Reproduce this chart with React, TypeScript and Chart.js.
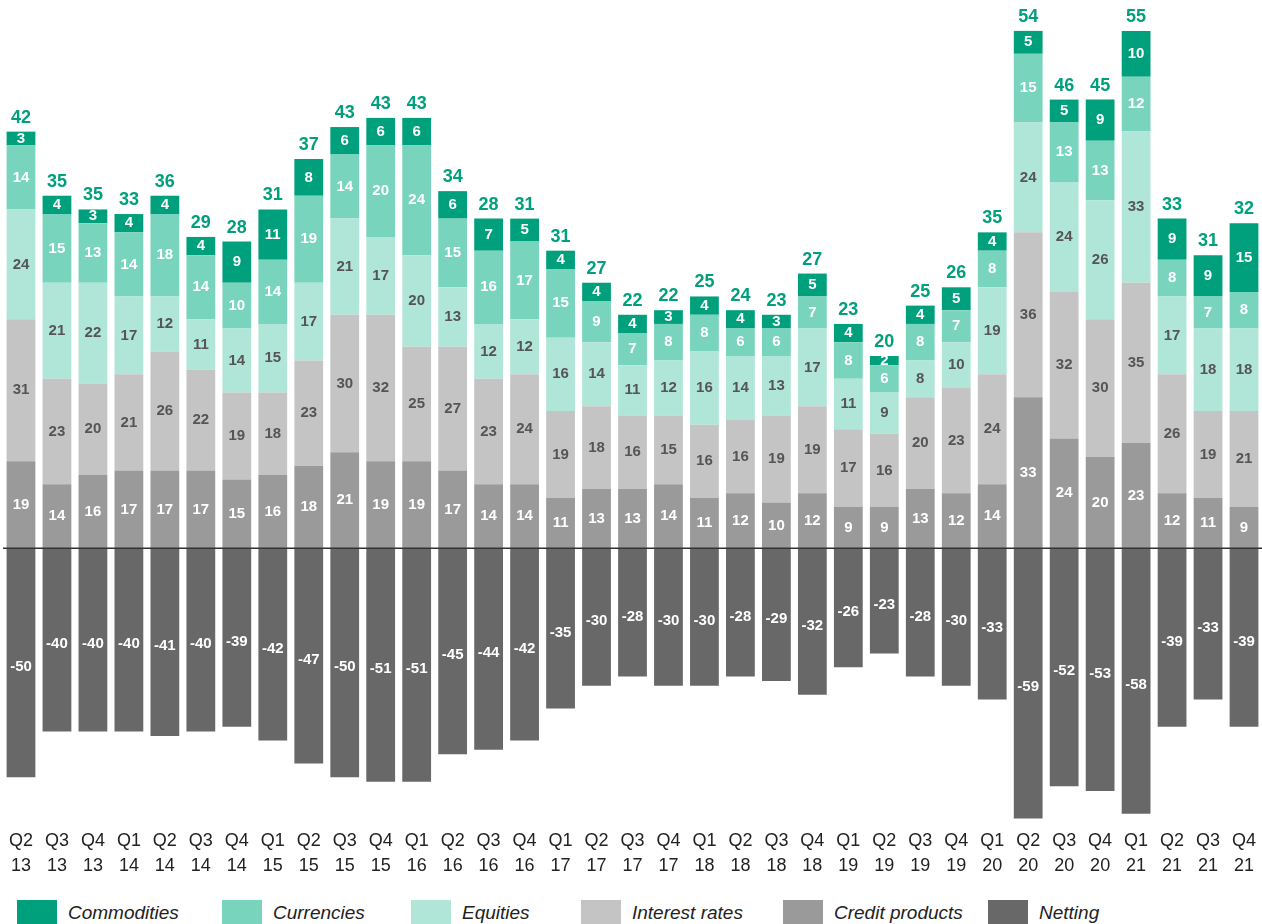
import React, { useEffect, useRef } from "react";
import { Chart, registerables } from "chart.js";
Chart.register(...registerables);

const quarters = ["Q2","Q3","Q4","Q1","Q2","Q3","Q4","Q1","Q2","Q3","Q4","Q1","Q2","Q3","Q4","Q1","Q2","Q3","Q4","Q1","Q2","Q3","Q4","Q1","Q2","Q3","Q4","Q1","Q2","Q3","Q4","Q1","Q2","Q3","Q4"];
const years = ["13","13","13","14","14","14","14","15","15","15","15","16","16","16","16","17","17","17","17","18","18","18","18","19","19","19","19","20","20","20","20","21","21","21","21"];

const commodities = [3,4,3,4,4,4,9,11,8,6,6,6,6,7,5,4,4,4,3,4,4,3,5,4,2,4,5,4,5,5,9,10,9,9,15];
const currencies = [14,15,13,14,18,14,10,14,19,14,20,24,15,16,17,15,9,7,8,8,6,6,7,8,6,8,7,8,15,13,13,12,8,7,8];
const equities = [24,21,22,17,12,11,14,15,17,21,17,20,13,12,12,16,14,11,12,16,14,13,17,11,9,8,10,19,24,24,26,33,17,18,18];
const interestRates = [31,23,20,21,26,22,19,18,23,30,32,25,27,23,24,19,18,16,15,16,16,19,19,17,16,20,23,24,36,32,30,35,26,19,21];
const creditProducts = [19,14,16,17,17,17,15,16,18,21,19,19,17,14,14,11,13,13,14,11,12,10,12,9,9,13,12,14,33,24,20,23,12,11,9];
const netting = [-50,-40,-40,-40,-41,-40,-39,-42,-47,-50,-51,-51,-45,-44,-42,-35,-30,-28,-30,-30,-28,-29,-32,-26,-23,-28,-30,-33,-59,-52,-53,-58,-39,-33,-39];
const totals = [42,35,35,33,36,29,28,31,37,43,43,43,34,28,31,31,27,22,22,25,24,23,27,23,20,25,26,35,54,46,45,55,33,31,32];

const COLORS = {
  commodities: "#00A07D",
  currencies: "#78D4BD",
  equities: "#B0E6D7",
  interest: "#C4C4C4",
  credit: "#9A9A9A",
  netting: "#686868",
};
const FONT = "'Liberation Sans', Arial, sans-serif";

const legendItems = [
  { label: "Commodities", color: COLORS.commodities, left: 17 },
  { label: "Currencies", color: COLORS.currencies, left: 222 },
  { label: "Equities", color: COLORS.equities, left: 411 },
  { label: "Interest rates", color: COLORS.interest, left: 581 },
  { label: "Credit products", color: COLORS.credit, left: 783 },
  { label: "Netting", color: COLORS.netting, left: 988 },
];

const labelPlugin = {
  id: "barLabels",
  afterDatasetsDraw(chart: any) {
    const ctx = chart.ctx;
    const ys = chart.scales.y;
    const area = chart.chartArea;
    ctx.save();
    // zero line
    const y0 = ys.getPixelForValue(0);
    ctx.strokeStyle = "#333333";
    ctx.lineWidth = 1.5;
    ctx.beginPath();
    ctx.moveTo(area.left, y0);
    ctx.lineTo(area.right, y0);
    ctx.stroke();

    ctx.textAlign = "center";
    chart.data.datasets.forEach((ds: any, i: number) => {
      const meta = chart.getDatasetMeta(i);
      meta.data.forEach((el: any, j: number) => {
        const p = el.getProps(["x", "y", "base"], true);
        const v = ds.data[j];
        ctx.font = `bold 15px ${FONT}`;
        ctx.fillStyle = ds.labelColor;
        ctx.textBaseline = "middle";
        const off = ds.labelOffset || 0;
        ctx.fillText(String(v), p.x, (p.y + p.base) / 2 + off);
        if (ds.isTop) {
          ctx.font = `bold 18px ${FONT}`;
          ctx.fillStyle = COLORS.commodities;
          ctx.textBaseline = "alphabetic";
          ctx.fillText(String(totals[j]), p.x, p.y - 9);
        }
      });
    });
    ctx.restore();
  },
};

export default function App() {
  const ref = useRef<HTMLCanvasElement | null>(null);
  useEffect(() => {
    if (!ref.current) return;
    const labels = quarters.map((q, i) => [q, years[i]]);
    const mk = (label: string, data: number[], color: string, labelColor: string, extra: any = {}) => ({
      label,
      data,
      backgroundColor: color,
      borderWidth: 0,
      barPercentage: 0.8,
      categoryPercentage: 1,
      labelColor,
      ...extra,
    });
    const chart = new Chart(ref.current, {
      type: "bar",
      data: {
        labels,
        datasets: [
          mk("Credit products", creditProducts, COLORS.credit, "#ffffff"),
          mk("Interest rates", interestRates, COLORS.interest, "#555555"),
          mk("Equities", equities, COLORS.equities, "#555555"),
          mk("Currencies", currencies, COLORS.currencies, "#ffffff"),
          mk("Commodities", commodities, COLORS.commodities, "#ffffff", { isTop: true }),
          mk("Netting", netting, COLORS.netting, "#ffffff", { labelOffset: 4 }),
        ] as any,
      },
      options: {
        animation: false,
        responsive: true,
        maintainAspectRatio: false,
        layout: { padding: { left: 3, right: 0, top: 8, bottom: 0 } },
        plugins: { legend: { display: false }, tooltip: { enabled: false }, title: { display: false } },
        scales: {
          x: {
            stacked: true,
            grid: { display: false, drawTicks: false },
            border: { display: false },
            ticks: {
              color: "#222222",
              font: { family: FONT, size: 18, lineHeight: 1.4 },
              padding: 5,
              maxRotation: 0,
              autoSkip: false,
            },
            afterFit: (scale: any) => {
              scale.height = 57;
            },
          },
          y: {
            stacked: true,
            display: false,
            min: -60,
            max: 118,
          },
        },
      },
      plugins: [labelPlugin],
    });
    return () => chart.destroy();
  }, []);

  return (
    <div style={{ position: "absolute", left: 0, top: 0, width: 1262, height: 924, background: "#ffffff", overflow: "hidden" }}>
      <div style={{ position: "absolute", left: 0, top: 0, width: 1262, height: 880 }}>
        <canvas ref={ref} />
      </div>
      {legendItems.map((it) => (
        <div key={it.label} style={{ position: "absolute", left: it.left, top: 900, display: "flex", alignItems: "flex-start" }}>
          <div style={{ width: 40, height: 24, background: it.color }} />
          <span style={{ marginLeft: 11, marginTop: 2, fontFamily: FONT, fontStyle: "italic", fontSize: 19, color: "#222222", lineHeight: "22px", whiteSpace: "nowrap" }}>
            {it.label}
          </span>
        </div>
      ))}
    </div>
  );
}
